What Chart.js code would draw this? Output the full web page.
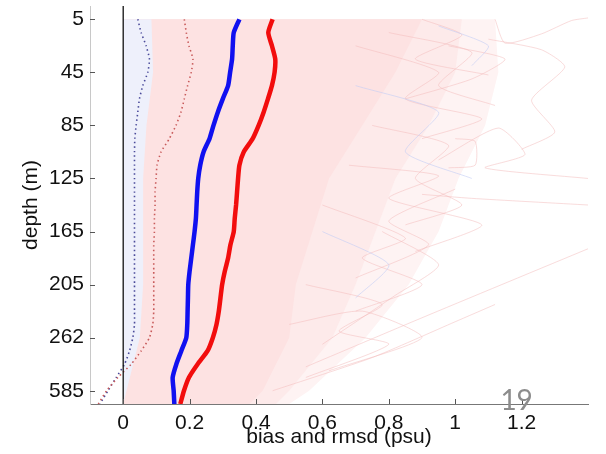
<!DOCTYPE html>
<html>
<head>
<meta charset="utf-8">
<script src="https://cdn.jsdelivr.net/npm/chart.js@4.4.1/dist/chart.umd.min.js"></script>
<style>
html, body { margin: 0; padding: 0; background: #fff; }
</style>
</head>
<body>
<canvas id="myChart" width="606" height="454"></canvas>
<script>

// depth levels are evenly spaced on the plot, so y is the level index
const depthLabels = ['5', '45', '85', '125', '165', '205', '262', '585'];
const depthTickIdx = [0, 4, 8, 12, 16, 20, 24, 28];
const xTickValues = [0, 0.2, 0.4, 0.6, 0.8, 1, 1.2];
const levelIdx = [0, 1, 2, 3, 4, 5, 6, 7, 8, 9, 10, 11, 12, 13, 14, 15, 16, 17, 18, 19, 20, 21, 22, 23, 24, 25, 26, 27, 28, 29];

// mean profiles (thick) and their companions (dotted)
const rmsdMean = [0.45, 0.437, 0.448, 0.458, 0.456, 0.448, 0.436, 0.423, 0.408, 0.39, 0.363, 0.35, 0.346, 0.343, 0.34, 0.336, 0.333, 0.323, 0.316, 0.306, 0.298, 0.293, 0.288, 0.281, 0.27, 0.254, 0.224, 0.198, 0.183, 0.172];
const biasMean = [0.35, 0.333, 0.33, 0.328, 0.322, 0.316, 0.3, 0.285, 0.272, 0.26, 0.242, 0.232, 0.226, 0.223, 0.221, 0.219, 0.215, 0.21, 0.205, 0.2, 0.196, 0.195, 0.194, 0.193, 0.19, 0.175, 0.16, 0.149, 0.152, 0.154];
const rmsdDotted = [0.184, 0.19, 0.198, 0.21, 0.205, 0.194, 0.184, 0.174, 0.159, 0.139, 0.114, 0.102, 0.099, 0.096, 0.096, 0.094, 0.094, 0.092, 0.092, 0.092, 0.092, 0.092, 0.092, 0.089, 0.079, 0.054, 0.024, -0.016, -0.05, -0.075];
const biasDotted = [0.044, 0.054, 0.069, 0.079, 0.074, 0.059, 0.049, 0.044, 0.039, 0.035, 0.034, 0.034, 0.034, 0.034, 0.034, 0.034, 0.034, 0.034, 0.034, 0.034, 0.034, 0.034, 0.034, 0.034, 0.029, 0.019, 0.004, -0.021, -0.046, -0.07];

// outline of the cloud of individual profiles, dense core to sparse edge
const envIdx = [0, 4, 8, 12, 16, 20, 24, 28, 29];
const envCore = [0.9, 0.82, 0.72, 0.62, 0.57, 0.52, 0.5, 0.42, 0.38];
const envMid = [1.02, 1.0, 0.92, 0.82, 0.76, 0.7, 0.63, 0.5, 0.46];
const envOuter = [1.12, 1.13, 1.09, 1.01, 0.95, 0.86, 0.73, 0.56, 0.5];
const envBlue = [0.085, 0.09, 0.07, 0.06, 0.06, 0.06, 0.05, 0.01, 0.0];

// stray profiles inside and outside the cloud: [value, level]
const strayPink = [
    [[1.12, 0], [1.15, 1.8], [1.26, 1.1], [1.35, 0.1], [1.4, -0.1]],
    [[1.1, 1.5], [1.26, 2.3], [1.33, 3.6], [1.23, 6.1], [1.3, 8.5], [1.2, 9.8]],
    [[0.95, 10.6], [1.13, 8.2], [1.21, 10.2], [1.09, 11.2], [1.4, 12.0]],
    [[0.9, 13.2], [1.05, 13.5], [1.4, 14.0]],
    [[0.55, 26.2], [0.9, 22.5], [1.4, 17.3]],
    [[0.45, 28], [0.75, 25.5], [1.0, 22.8], [1.12, 21.5]],
    [[0.6, 24.5], [0.82, 20.8], [0.95, 18.5], [0.78, 16.0]],
    [[1.0, 9.0], [1.06, 9.2], [1.06, 11.0], [0.98, 11.2]],
    [[0.7, 19.5], [0.92, 17.0], [0.8, 15.2], [1.0, 12.8]],
    [[0.85, 6.0], [1.05, 4.5], [1.15, 3.0], [0.98, 2.0]],
    [[0.7, 2], [0.95, 4], [0.85, 6], [1.08, 7.5], [0.9, 9]],
    [[0.75, 8], [0.98, 9.5], [0.88, 12], [1.02, 14], [0.85, 15.5]],
    [[0.6, 14], [0.85, 16.5], [0.72, 18], [0.9, 20], [0.7, 22]],
    [[0.55, 20], [0.78, 21.5], [0.65, 23.5], [0.8, 24.5], [0.55, 27]],
    [[0.8, 1], [1.05, 2.5], [0.95, 5], [1.12, 6.5]],
    [[0.68, 11], [0.95, 11.8], [0.8, 13.5], [1.08, 15.5], [0.88, 17.5]],
    [[0.5, 23], [0.72, 22], [0.9, 24], [0.62, 26.5]],
    [[0.9, 0], [1.02, 1.2], [0.88, 3], [1.1, 4.2]]
];
const strayBlue = [
    [[0.7, 5], [0.95, 7], [0.85, 10], [1.05, 12]],
    [[0.6, 16], [0.8, 18.5], [0.7, 21]],
    [[0.95, 0.5], [1.1, 2], [1.05, 3.5]]
];

const ink = '#111';
const fontFamily = '"Liberation Sans", Arial, sans-serif';

function profile(values)
{
    return values.map((v, i) => ({ x: v, y: levelIdx[i] }));
}

function envelope(edge)
{
    let pts = edge.map((v, i) => ({ x: v, y: envIdx[i] }));
    pts.push({ x: 0, y: envIdx[envIdx.length - 1] });
    pts.push({ x: 0, y: envIdx[0] });
    return pts;
}

function lineSet(data, color, width, dash)
{
    return {
        data: data,
        showLine: true,
        borderColor: color,
        borderWidth: width,
        borderDash: dash || [],
        pointRadius: 0,
        tension: 0.2,
        fill: false
    };
}

function areaSet(data, color)
{
    return {
        data: data,
        showLine: true,
        borderColor: 'rgba(0,0,0,0)',
        borderWidth: 1,
        backgroundColor: color,
        pointRadius: 0,
        tension: 0,
        fill: 'shape'
    };
}

// MATLAB style inward ticks and the slide number
const extras = {
    id: 'extras',
    afterDraw(chart) {
        const c = chart.ctx;
        const xs = chart.scales.x;
        const ys = chart.scales.y;
        const area = chart.chartArea;
        c.save();
        c.strokeStyle = '#555';
        c.lineWidth = 1;
        c.beginPath();
        xTickValues.forEach(v => {
            const px = Math.round(xs.getPixelForValue(v)) + 0.5;
            c.moveTo(px, area.bottom);
            c.lineTo(px, area.bottom - 5);
        });
        depthTickIdx.forEach(v => {
            const py = Math.round(ys.getPixelForValue(v)) + 0.5;
            c.moveTo(area.left, py);
            c.lineTo(area.left + 5, py);
        });
        c.stroke();
        c.fillStyle = '#8c8c8c';
        c.font = '28px Lato, "Open Sans", sans-serif';
        c.textAlign = 'center';
        c.textBaseline = 'middle';
        c.fillText('19', xs.getPixelForValue(1.185), area.bottom - 3);
        c.restore();
    }
};

function renderChart()
{
    const ctx = document.getElementById('myChart');

    let datasets = [
        lineSet([{ x: 0, y: -1 }, { x: 0, y: 29 }], '#111', 1.3),
        lineSet(profile(rmsdMean), '#f20d0d', 4.5),
        lineSet(profile(biasMean), '#1010f0', 4.5),
        lineSet(profile(rmsdDotted), '#c85a5a', 1.6, [1.5, 3]),
        lineSet(profile(biasDotted), '#4a4a9a', 1.6, [1.5, 3])
    ];
    for (let i = 0; i < strayBlue.length; i++)
    {
        let pts = strayBlue[i].map(p => ({ x: p[0], y: p[1] }));
        datasets.push(lineSet(pts, 'rgba(195,205,245,0.6)', 1));
    }
    for (let i = 0; i < strayPink.length; i++)
    {
        let pts = strayPink[i].map(p => ({ x: p[0], y: p[1] }));
        datasets.push(lineSet(pts, 'rgba(244,185,185,0.5)', 1));
    }
    datasets.push(areaSet(envelope(envBlue), '#eef0fb'));
    datasets.push(areaSet(envelope(envCore), '#fde2e2'));
    datasets.push(areaSet(envelope(envMid), '#fdeaea'));
    datasets.push(areaSet(envelope(envOuter), '#fef3f3'));

    new Chart(ctx, {
        type: 'scatter',
        data: { datasets: datasets },
        plugins: [extras],
        options: {
            responsive: false,
            animation: false,
            devicePixelRatio: 1,
            layout: { padding: { left: 19, right: 18, top: 6, bottom: 4 } },
            plugins: {
                legend: { display: false },
                tooltip: { enabled: false }
            },
            scales: {
                x: {
                    type: 'linear',
                    min: -0.1,
                    max: 1.4,
                    afterBuildTicks: (axis) => { axis.ticks = xTickValues.map(v => ({ value: v })); },
                    afterFit: (s) => { s.height = 46; s.paddingLeft = 0; s.paddingRight = 0; },
                    ticks: {
                        color: ink,
                        padding: 7,
                        maxRotation: 0,
                        font: { family: fontFamily, size: 21 },
                        callback: (v) => String(v)
                    },
                    grid: { display: false, drawTicks: false },
                    border: { display: true, color: '#777', width: 1 },
                    title: {
                        display: true,
                        text: 'bias and rmsd (psu)',
                        color: ink,
                        padding: 0,
                        font: { family: fontFamily, size: 21 }
                    }
                },
                y: {
                    type: 'linear',
                    min: -1,
                    max: 29,
                    reverse: true,
                    afterBuildTicks: (axis) => { axis.ticks = depthTickIdx.map(v => ({ value: v })); },
                    afterFit: (s) => { s.width = 71; s.paddingTop = 0; s.paddingBottom = 0; },
                    ticks: {
                        color: ink,
                        padding: 6,
                        font: { family: fontFamily, size: 21 },
                        callback: (v) => depthLabels[depthTickIdx.indexOf(v)]
                    },
                    grid: { display: false, drawTicks: false },
                    border: { display: true, color: '#c8c8c8', width: 1 },
                    title: {
                        display: true,
                        text: 'depth (m)',
                        color: ink,
                        padding: 0,
                        font: { family: fontFamily, size: 21 }
                    }
                }
            }
        }
    });
}

renderChart();

</script>
</body>
</html>
